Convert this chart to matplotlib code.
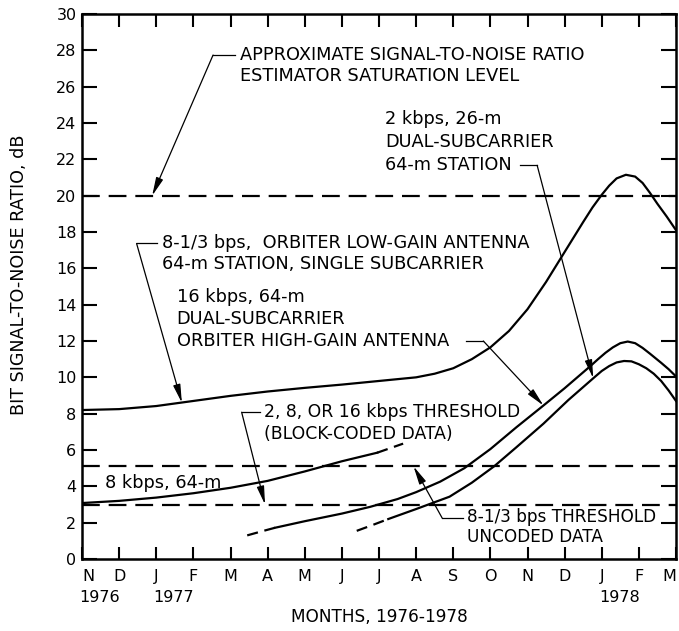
import matplotlib
matplotlib.use('Agg')
import matplotlib.pyplot as plt

# months counted from Nov 1976 (0) to Mar 1978 (16)
month_labels = ['N', 'D', 'J', 'F', 'M', 'A', 'M', 'J', 'J', 'A', 'S', 'O', 'N', 'D', 'J', 'F', 'M']
year_pos = [0, 2, 14]
year_labels = ['1976', '1977', '1978']

# 8-1/3 bps, orbiter low-gain antenna
low_gain_x = [0, 1, 2, 3, 4, 5, 6, 7, 8, 9, 9.5, 10, 10.5, 11, 11.5, 12, 12.5, 13, 13.5, 13.75,
              14, 14.2, 14.4, 14.65, 14.9, 15.1, 15.3, 15.5, 15.75, 16]
low_gain_y = [8.2, 8.25, 8.42, 8.7, 8.98, 9.22, 9.42, 9.6, 9.8, 10.0, 10.2, 10.5, 11.0, 11.65, 12.55,
              13.75, 15.25, 16.9, 18.55, 19.35, 20.05, 20.55, 20.95, 21.15, 21.05, 20.7, 20.15,
              19.55, 18.85, 18.1]

# 8 kbps, 64-m (solid part, then dashed extension)
kbps8_x = [0, 1, 2, 3, 4, 5, 6, 7, 7.95]
kbps8_y = [3.08, 3.2, 3.38, 3.62, 3.92, 4.3, 4.82, 5.38, 5.85]
kbps8_ext_x = [7.95, 8.3, 8.65]
kbps8_ext_y = [5.85, 6.1, 6.35]

# 16 kbps, 64-m dual-subcarrier, orbiter high-gain antenna
kbps16_ext_x = [4.45, 4.8, 5.2]
kbps16_ext_y = [1.3, 1.5, 1.72]
kbps16_x = [5.2, 6, 7, 7.76, 8.5, 9, 9.65, 10.3, 11, 11.7, 12.43, 13, 13.7, 13.9, 14.1, 14.3,
            14.5, 14.7, 14.9, 15.1, 15.3, 15.6, 15.8, 16]
kbps16_y = [1.72, 2.08, 2.5, 2.87, 3.3, 3.68, 4.26, 5.0, 6.05, 7.25, 8.45, 9.4, 10.63, 11.0, 11.35,
            11.65, 11.88, 11.97, 11.88, 11.62, 11.3, 10.8, 10.45, 10.05]

# 2 kbps, 26-m dual-subcarrier 64-m station
kbps2_ext_x = [7.4, 7.8, 8.25]
kbps2_ext_y = [1.55, 1.85, 2.2]
kbps2_x = [8.25, 9, 9.9, 10.5, 11.1, 11.7, 12.43, 13.1, 13.8, 14.0, 14.2, 14.4, 14.6, 14.8, 15.0,
           15.2, 15.4, 15.6, 15.8, 16]
kbps2_y = [2.2, 2.75, 3.43, 4.2, 5.1, 6.15, 7.45, 8.75, 10.0, 10.35, 10.62, 10.82, 10.9, 10.88,
           10.72, 10.5, 10.2, 9.8, 9.28, 8.7]

saturation_level = 20.0
block_threshold = 3.0
uncoded_threshold = 5.1

plt.rcParams['font.family'] = ['DejaVu Sans']
fs = 11.5   # tick labels
afs = 12.8  # notes

fig = plt.figure(figsize=(6.79, 6.31), dpi=100)
ax = fig.add_axes([82 / 679, 1 - 559 / 631, 594 / 679, 545 / 631])

ax.plot(low_gain_x, low_gain_y, color='k', lw=1.6)
ax.plot(kbps8_x, kbps8_y, color='k', lw=1.6)
ax.plot(kbps8_ext_x, kbps8_ext_y, color='k', lw=1.6, dashes=(5, 3))
ax.plot(kbps16_x, kbps16_y, color='k', lw=1.6)
ax.plot(kbps16_ext_x, kbps16_ext_y, color='k', lw=1.6, dashes=(5, 3))
ax.plot(kbps2_x, kbps2_y, color='k', lw=1.6)
ax.plot(kbps2_ext_x, kbps2_ext_y, color='k', lw=1.6, dashes=(5, 3))

for lvl in [saturation_level, uncoded_threshold, block_threshold]:
    ax.axhline(lvl, color='k', lw=1.6, dashes=(8, 4))

ax.set_xlim(0, 16)
ax.set_ylim(0, 30)
ax.set_xticks(range(17))
ax.set_xticklabels(month_labels, fontsize=fs)
xl = ax.get_xticklabels()
xl[0].set_ha('left')
xl[-1].set_ha('right')
ax.set_yticks(range(0, 31, 2))
ax.tick_params(axis='y', direction='in', length=11, width=1.5, labelsize=fs, right=True, pad=4)
ax.tick_params(axis='x', direction='in', length=9, width=1.5, top=True, pad=7)
for s in ax.spines.values():
    s.set_linewidth(1.8)

for p, lab in zip(year_pos, year_labels):
    ax.text(p - 0.08, -0.07, lab, transform=ax.get_xaxis_transform(),
            ha='left', va='center', fontsize=fs)

fig.text(19 / 679, 1 - 275 / 631, 'BIT SIGNAL-TO-NOISE RATIO, dB', rotation=90,
         ha='center', va='center', fontsize=12.6)
fig.text(379 / 679, 1 - 617 / 631, 'MONTHS, 1976-1978', ha='center', va='center', fontsize=12.2)


def leader(x0, x1, y, tip):
    ax.plot([x0, x1], [y, y], color='k', lw=0.9)
    ax.annotate('', xy=tip, xytext=(x1, y),
                arrowprops=dict(arrowstyle='-|>,head_length=1.1,head_width=0.22',
                                color='k', lw=0.9, shrinkA=0, shrinkB=0))


ax.text(4.26, 27.19, 'APPROXIMATE SIGNAL-TO-NOISE RATIO\nESTIMATOR SATURATION LEVEL',
        ha='left', va='center', fontsize=afs, linespacing=1.22)
leader(4.12, 3.53, 27.74, (1.89, saturation_level))

ax.text(8.17, 22.93, '2 kbps, 26-m\nDUAL-SUBCARRIER\n64-m STATION',
        ha='left', va='center', fontsize=afs, linespacing=1.36)
leader(11.8, 12.26, 21.67, (13.77, 9.95))

ax.text(2.15, 16.83, '8-1/3 bps,  ORBITER LOW-GAIN ANTENNA\n64-m STATION, SINGLE SUBCARRIER',
        ha='left', va='center', fontsize=afs, linespacing=1.22)
leader(2.02, 1.47, 17.37, (2.69, 8.6))

ax.text(2.55, 13.19, '16 kbps, 64-m\nDUAL-SUBCARRIER\nORBITER HIGH-GAIN ANTENNA',
        ha='left', va='center', fontsize=afs, linespacing=1.28)
leader(10.35, 10.81, 12.0, (12.43, 8.45))

ax.text(4.89, 7.49, '2, 8, OR 16 kbps THRESHOLD\n(BLOCK-CODED DATA)',
        ha='left', va='center', fontsize=12.4, linespacing=1.33)
leader(4.8, 4.3, 8.08, (4.93, block_threshold))

ax.text(0.62, 4.17, '8 kbps, 64-m', ha='left', va='center', fontsize=afs)

ax.text(10.37, 1.75, '8-1/3 bps THRESHOLD\nUNCODED DATA',
        ha='left', va='center', fontsize=12.2, linespacing=1.16)
leader(10.27, 9.7, 2.26, (8.93, uncoded_threshold))

fig.savefig('out.png', dpi=100)
